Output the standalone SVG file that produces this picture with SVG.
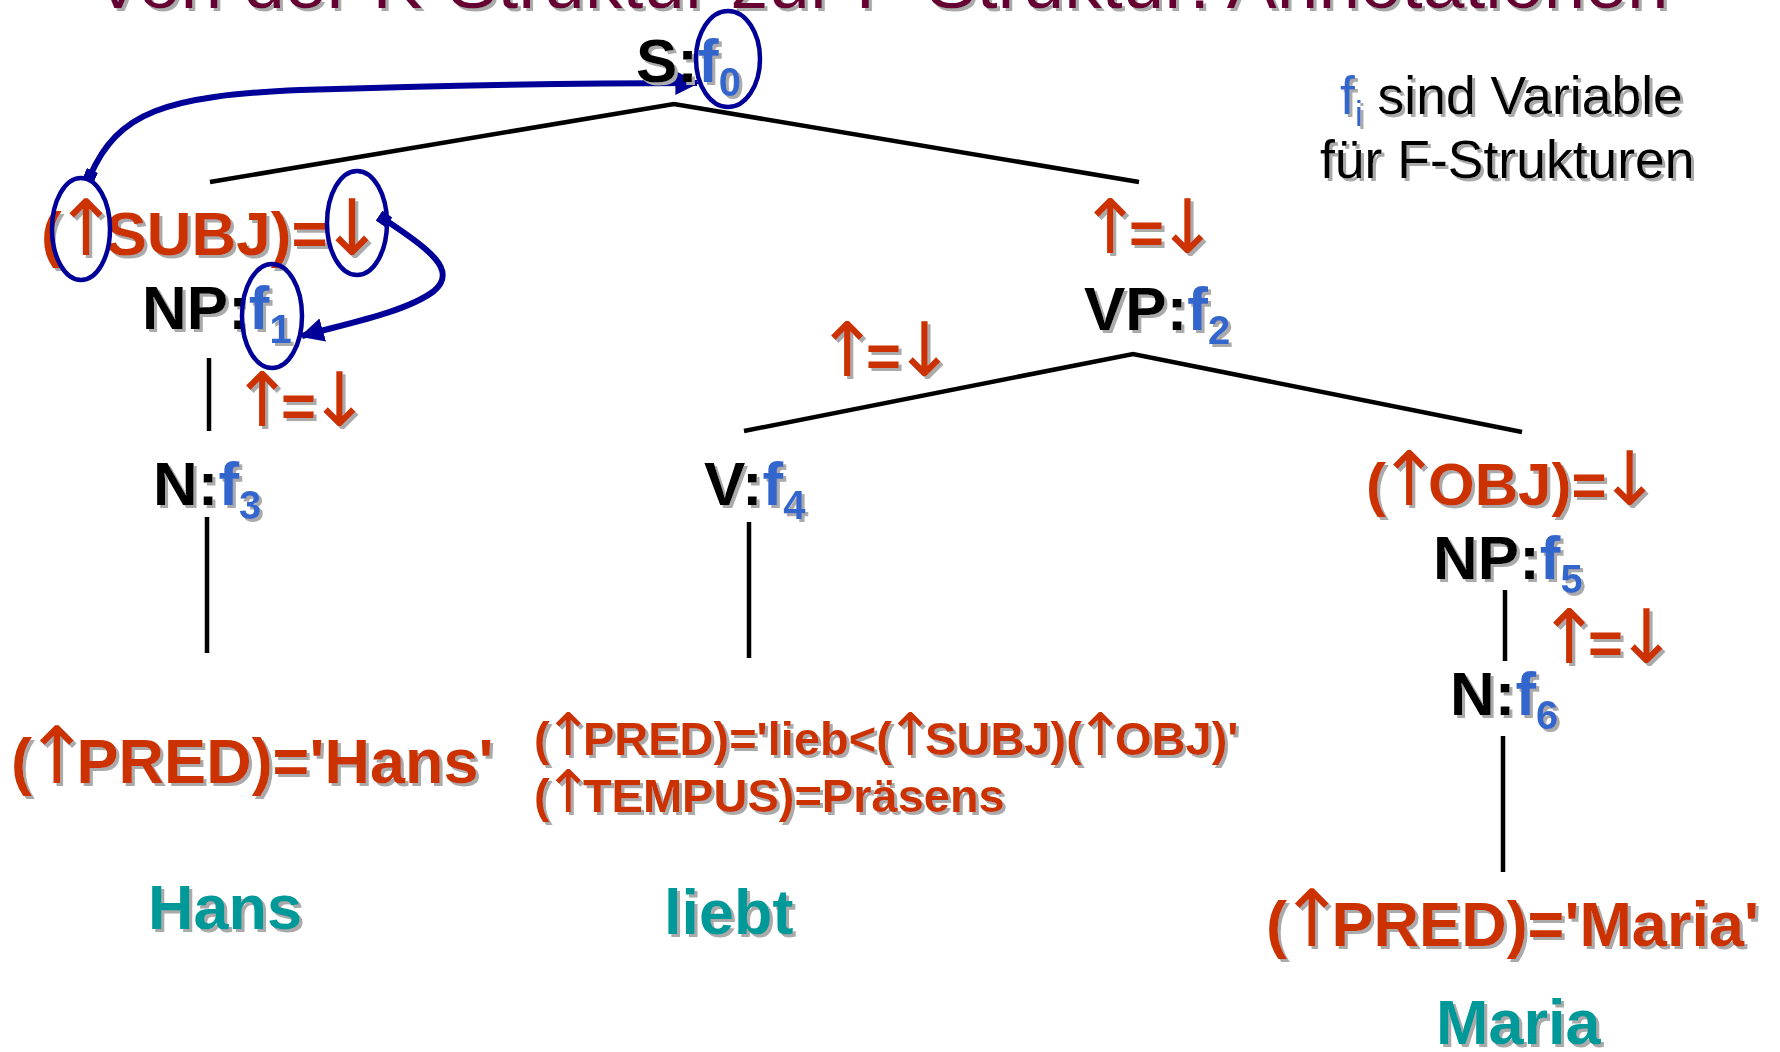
<svg xmlns="http://www.w3.org/2000/svg" width="1780" height="1052" viewBox="0 0 1780 1052">
  <defs>
    <style>
      .t { font-family: "Liberation Sans", Arial, sans-serif; font-weight: bold; filter: url(#sh); }
      .title { font-weight: normal; font-size: 75px; fill: #660033; }
      .note { font-weight: normal; font-size: 53.5px; fill: #000; }
      .node { font-size: 62px; fill: #000; }
      .fv { fill: #3366CC; }
      .sub { font-size: 40px; }
      .ann { fill: #CC3300; }
      .big { font-size: 63px; }
      .mid { font-size: 60px; }
      .small { font-size: 47px; }
      .ar { font-family: "DejaVu Sans", sans-serif; font-weight: normal; font-size: 1.25em; letter-spacing: -0.17em; }
      .k { letter-spacing: -8px; }
      .small .k { letter-spacing: -6px; }
      .word { font-size: 63px; fill: #009999; }
      .edge { stroke: #000; stroke-width: 4.5; fill: none; }
      .ring { stroke: #000099; stroke-width: 4.5; fill: none; }
      .link { stroke: #000099; stroke-width: 6; fill: none; marker-start: url(#tail); marker-end: url(#head); }
    </style>
    <filter id="sh" x="-5%" y="-10%" width="115%" height="140%">
      <feOffset in="SourceAlpha" dx="3" dy="3" result="off"/>
      <feFlood flood-color="#aaaaaa"/>
      <feComposite in2="off" operator="in" result="shadow"/>
      <feMerge>
        <feMergeNode in="shadow"/>
        <feMergeNode in="SourceGraphic"/>
      </feMerge>
    </filter>
    <marker id="head" viewBox="0 0 10 10" refX="9" refY="5" markerWidth="24" markerHeight="24" markerUnits="userSpaceOnUse" orient="auto">
      <path d="M0,0 L10,5 L0,10 z" fill="#000099"/>
    </marker>
    <marker id="tail" viewBox="0 0 10 10" refX="5" refY="5" markerWidth="12" markerHeight="12" markerUnits="userSpaceOnUse" orient="auto">
      <rect x="0" y="0" width="10" height="10" fill="#000099"/>
    </marker>
  </defs>

  <!-- heading, partly above the top edge -->
  <text class="t title" x="93" y="8">Von der K-Struktur zur F-Struktur: Annotationen</text>

  <!-- side note -->
  <g id="note">
    <text class="t note" x="1340" y="114"><tspan class="fv">f</tspan><tspan font-size="35" dy="12" class="fv">i</tspan><tspan dy="-12"> sind Variable</tspan></text>
    <text class="t note" x="1320" y="178">für F-Strukturen</text>
  </g>

  <!-- tree edges and f-structure links -->
  <g id="connectors">
    <polyline class="edge" points="210,182 674,104 1139,182"/>
    <line class="edge" x1="209" y1="358" x2="209" y2="431"/>
    <line class="edge" x1="207" y1="517" x2="207" y2="653"/>
    <polyline class="edge" points="744,431 1133,354 1522,432"/>
    <line class="edge" x1="749" y1="522" x2="749" y2="658"/>
    <line class="edge" x1="1505" y1="590" x2="1505" y2="661"/>
    <line class="edge" x1="1503" y1="736" x2="1503" y2="872"/>
    <path class="link" d="M 90,176 C 118,112 165,96 300,90 C 450,85 600,83 697,83"/>
    <path class="link" d="M 384,219 C 430,250 458,270 434,291 C 405,313 340,325 302,336"/>
  </g>

  <!-- root S -->
  <g id="node-s">
    <text class="t node" x="636" y="82">S:<tspan class="fv">f</tspan><tspan class="fv sub" dy="14">0</tspan></text>
    <ellipse class="ring" cx="728" cy="59" rx="32" ry="48"/>
  </g>

  <!-- subject NP -->
  <g id="node-np1">
    <text class="t ann" font-size="62" x="41" y="255"><tspan class="k">(</tspan><tspan class="ar">↑</tspan>SUBJ)<tspan class="k">=</tspan><tspan class="ar">↓</tspan></text>
    <ellipse class="ring" cx="81" cy="229" rx="29" ry="51"/>
    <ellipse class="ring" cx="357" cy="223" rx="30" ry="52"/>
    <text class="t node" x="142" y="329">NP:<tspan class="fv">f</tspan><tspan class="fv sub" dy="14">1</tspan></text>
    <ellipse class="ring" cx="272" cy="316" rx="30" ry="52"/>
  </g>

  <g id="node-n3">
    <text class="t ann mid" x="231" y="426"><tspan class="ar">↑</tspan><tspan class="k">=</tspan><tspan class="ar">↓</tspan></text>
    <text class="t node" x="153" y="505">N:<tspan class="fv">f</tspan><tspan class="fv sub" dy="14">3</tspan></text>
  </g>

  <g id="leaf-hans">
    <text class="t ann big" x="11" y="783"><tspan class="k">(</tspan><tspan class="ar">↑</tspan>PRED)='Hans'</text>
    <text class="t word" x="148" y="929">Hans</text>
  </g>

  <!-- VP -->
  <g id="node-vp">
    <text class="t ann mid" x="1079" y="253"><tspan class="ar">↑</tspan><tspan class="k">=</tspan><tspan class="ar">↓</tspan></text>
    <text class="t node" x="1084" y="330">VP:<tspan class="fv">f</tspan><tspan class="fv sub" dy="14">2</tspan></text>
  </g>

  <g id="node-v">
    <text class="t ann mid" x="816" y="376"><tspan class="ar">↑</tspan><tspan class="k">=</tspan><tspan class="ar">↓</tspan></text>
    <text class="t node" x="704" y="505">V:<tspan class="fv">f</tspan><tspan class="fv sub" dy="14">4</tspan></text>
  </g>

  <g id="leaf-liebt">
    <text class="t ann small" x="534" y="755"><tspan class="k">(</tspan><tspan class="ar">↑</tspan>PRED)='lieb&lt;<tspan class="k">(</tspan><tspan class="ar">↑</tspan>SUBJ)<tspan class="k">(</tspan><tspan class="ar">↑</tspan>OBJ)'</text>
    <text class="t ann small" x="534" y="812"><tspan class="k">(</tspan><tspan class="ar">↑</tspan>TEMPUS)=Präsens</text>
    <text class="t word" x="664" y="934">liebt</text>
  </g>

  <!-- object NP -->
  <g id="node-np5">
    <text class="t ann mid" x="1366" y="505"><tspan class="k">(</tspan><tspan class="ar">↑</tspan>OBJ)<tspan class="k">=</tspan><tspan class="ar">↓</tspan></text>
    <text class="t node" x="1433" y="579">NP:<tspan class="fv">f</tspan><tspan class="fv sub" dy="14">5</tspan></text>
  </g>

  <g id="node-n6">
    <text class="t ann mid" x="1538" y="663"><tspan class="ar">↑</tspan><tspan class="k">=</tspan><tspan class="ar">↓</tspan></text>
    <text class="t node" x="1450" y="715">N:<tspan class="fv">f</tspan><tspan class="fv sub" dy="14">6</tspan></text>
  </g>

  <g id="leaf-maria">
    <text class="t ann big" x="1266" y="946"><tspan class="k">(</tspan><tspan class="ar">↑</tspan>PRED)='Maria'</text>
    <text class="t word" x="1436" y="1044">Maria</text>
  </g>
</svg>
